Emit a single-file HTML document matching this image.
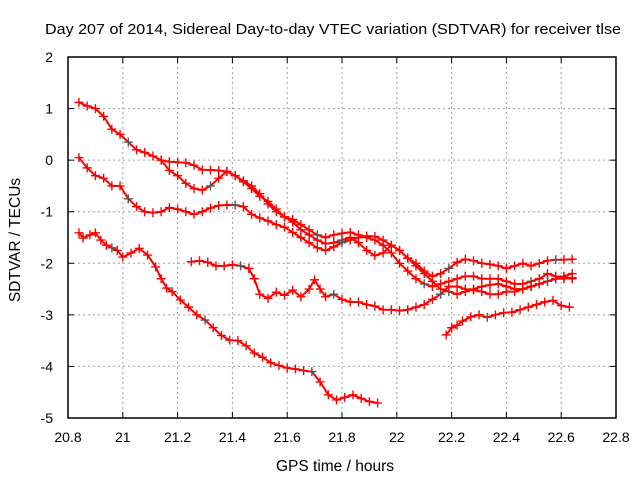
<!DOCTYPE html>
<html><head><meta charset="utf-8"><style>
html,body{margin:0;padding:0;background:#fff;}
svg text{font-family:"Liberation Sans",sans-serif;fill:#000;}
</style></head><body>
<svg id="chart" width="640" height="480" xmlns="http://www.w3.org/2000/svg">
<rect width="640" height="480" fill="#fff"/>
<text x="333" y="34" font-size="15" text-anchor="middle" textLength="576" lengthAdjust="spacingAndGlyphs">Day 207 of 2014, Sidereal Day-to-day VTEC variation (SDTVAR) for receiver tlse</text>
<g id="grid"></g><g id="ticks"></g><g id="series"></g>
<rect x="68" y="57" width="548" height="361" fill="none" stroke="#000" stroke-width="1.5"/>
<text x="335" y="471" font-size="15.5" text-anchor="middle">GPS time / hours</text>
<text x="0" y="0" font-size="15.5" text-anchor="middle" transform="translate(20,240) rotate(-90)">SDTVAR / TECUs</text>
</svg>
<script>
const xTicks=[20.8,21,21.2,21.4,21.6,21.8,22,22.2,22.4,22.6,22.8];
const xTickLabels=["20.8","21","21.2","21.4","21.6","21.8","22","22.2","22.4","22.6","22.8"];
const yTicks=[2,1,0,-1,-2,-3,-4,-5];
const yTickLabels=["2","1","0","-1","-2","-3","-4","-5"];
const s1x=[20.84,20.87,20.9,20.93,20.96,20.99,21.02,21.05,21.08,21.11,21.14,21.17,21.2,21.23,21.26,21.29,21.32,21.35,21.38,21.41,21.44,21.47,21.5,21.53,21.56,21.59,21.62,21.65,21.68,21.71,21.74,21.77,21.8,21.83,21.86,21.89,21.92,21.95,21.98,22.01,22.04,22.07,22.1,22.13,22.16,22.19,22.22,22.25,22.28,22.31,22.34,22.37,22.4,22.43,22.46,22.49,22.52,22.55,22.58,22.61,22.64];
const s1y=[1.12,1.05,1.0,0.85,0.6,0.5,0.35,0.2,0.15,0.08,0.0,-0.03,-0.04,-0.05,-0.1,-0.19,-0.19,-0.2,-0.22,-0.3,-0.42,-0.55,-0.7,-0.8,-0.95,-1.1,-1.2,-1.35,-1.45,-1.55,-1.62,-1.6,-1.55,-1.5,-1.6,-1.75,-1.85,-1.8,-1.65,-1.75,-1.9,-2.0,-2.15,-2.25,-2.2,-2.1,-1.98,-1.92,-1.95,-2.0,-2.02,-2.05,-2.1,-2.05,-2.0,-2.05,-2.0,-1.95,-1.93,-1.93,-1.92];
const s2x=[21.14,21.17,21.2,21.23,21.26,21.29,21.32,21.35,21.38,21.41,21.44,21.47,21.5,21.53,21.56,21.59,21.62,21.65,21.68,21.71,21.74,21.77,21.8,21.83,21.86,21.89,21.92,21.95,21.98,22.01,22.04,22.07,22.1,22.13,22.16,22.19,22.22,22.25,22.28,22.31,22.34,22.37,22.4,22.43,22.46,22.49,22.52,22.55,22.58,22.61,22.64];
const s2y=[0.0,-0.2,-0.3,-0.45,-0.55,-0.58,-0.5,-0.35,-0.22,-0.3,-0.4,-0.5,-0.65,-0.85,-1.0,-1.1,-1.15,-1.25,-1.35,-1.45,-1.5,-1.45,-1.42,-1.4,-1.45,-1.5,-1.55,-1.65,-1.8,-2.0,-2.15,-2.3,-2.4,-2.45,-2.4,-2.35,-2.3,-2.25,-2.25,-2.3,-2.3,-2.3,-2.35,-2.4,-2.4,-2.35,-2.3,-2.2,-2.25,-2.28,-2.3];
const s3x=[20.84,20.87,20.9,20.93,20.96,20.99,21.02,21.05,21.08,21.11,21.14,21.17,21.2,21.23,21.26,21.29,21.32,21.35,21.38,21.41,21.44,21.47,21.5,21.53,21.56,21.59,21.62,21.65,21.68,21.71,21.74,21.77,21.8,21.83,21.86,21.89,21.92,21.95,21.98,22.01,22.04,22.07,22.1,22.13,22.16,22.19,22.22,22.25,22.28,22.31,22.34,22.37,22.4,22.43,22.46,22.49,22.52,22.55,22.58,22.61,22.64];
const s3y=[0.05,-0.15,-0.3,-0.35,-0.5,-0.5,-0.75,-0.9,-1.0,-1.02,-1.0,-0.92,-0.95,-1.0,-1.05,-1.0,-0.93,-0.88,-0.87,-0.87,-0.9,-1.05,-1.12,-1.18,-1.25,-1.3,-1.4,-1.5,-1.6,-1.7,-1.75,-1.68,-1.6,-1.55,-1.5,-1.47,-1.48,-1.55,-1.65,-1.75,-1.9,-2.05,-2.2,-2.35,-2.5,-2.55,-2.6,-2.55,-2.5,-2.45,-2.42,-2.4,-2.45,-2.5,-2.5,-2.45,-2.4,-2.35,-2.3,-2.25,-2.2];
const s4x=[20.84,20.855,20.88,20.9,20.92,20.94,20.96,20.98,21.0,21.03,21.06,21.09,21.12,21.14,21.16,21.18,21.21,21.24,21.27,21.3,21.33,21.36,21.39,21.42,21.45,21.48,21.51,21.54,21.57,21.6,21.63,21.66,21.69,21.72,21.75,21.78,21.81,21.84,21.87,21.9,21.93];
const s4y=[-1.41,-1.51,-1.45,-1.41,-1.55,-1.65,-1.7,-1.75,-1.88,-1.8,-1.71,-1.84,-2.07,-2.3,-2.48,-2.55,-2.71,-2.85,-3.0,-3.1,-3.25,-3.4,-3.49,-3.5,-3.6,-3.74,-3.82,-3.93,-3.98,-4.03,-4.05,-4.08,-4.1,-4.3,-4.55,-4.65,-4.6,-4.55,-4.62,-4.68,-4.71];
const s5x=[21.25,21.28,21.31,21.34,21.37,21.4,21.43,21.46,21.48,21.5,21.53,21.56,21.59,21.62,21.65,21.68,21.7,21.72,21.74,21.77,21.8,21.83,21.86,21.89,21.92,21.95,21.98,22.01,22.04,22.07,22.1,22.13,22.16,22.19,22.22,22.25,22.28,22.31,22.34,22.37,22.4,22.43,22.46,22.49,22.52,22.55,22.58,22.61,22.64];
const s5y=[-1.97,-1.95,-1.98,-2.05,-2.05,-2.03,-2.05,-2.1,-2.3,-2.6,-2.68,-2.56,-2.62,-2.52,-2.65,-2.5,-2.32,-2.5,-2.65,-2.6,-2.7,-2.75,-2.75,-2.8,-2.83,-2.9,-2.9,-2.92,-2.9,-2.85,-2.8,-2.7,-2.6,-2.45,-2.45,-2.5,-2.52,-2.55,-2.6,-2.6,-2.55,-2.55,-2.5,-2.45,-2.4,-2.35,-2.3,-2.3,-2.28];
const s6x=[22.18,22.2,22.22,22.24,22.27,22.3,22.33,22.36,22.39,22.42,22.45,22.48,22.51,22.54,22.57,22.6,22.63];
const s6y=[-3.39,-3.25,-3.2,-3.12,-3.04,-3.0,-3.05,-3.0,-2.96,-2.95,-2.9,-2.85,-2.8,-2.75,-2.72,-2.82,-2.85];
const seriesList=[[s1x,s1y],[s2x,s2y],[s3x,s3y],[s4x,s4y],[s5x,s5y],[s6x,s6y]];
const NS="http://www.w3.org/2000/svg";
const X0=68,X1=616,Y0=57,Y1=418;
function xs(v){return X0+(v-20.8)/(22.8-20.8)*(X1-X0);}
function ys(v){return Y0+(2-v)/(2-(-5))*(Y1-Y0);}
function mk(tag,attrs,parent){const e=document.createElementNS(NS,tag);for(const k in attrs)e.setAttribute(k,attrs[k]);parent.appendChild(e);return e;}
const grid=document.getElementById('grid'),ticks=document.getElementById('ticks'),ser=document.getElementById('series');
xTicks.forEach((t,i)=>{const x=xs(t);
 if(i>0&&i<xTicks.length-1){const g=mk('line',{x1:x,x2:x,y1:Y0,y2:Y1,stroke:'#a0a0a0','stroke-dasharray':'2,3'},grid);
 
 }
 mk('line',{x1:x,x2:x,y1:Y1,y2:Y1-6,stroke:'#000'},ticks);
 mk('line',{x1:x,x2:x,y1:Y0,y2:Y0+6,stroke:'#000'},ticks);
 const tx=mk('text',{x:x,y:442,'font-size':14,'text-anchor':'middle'},ticks);tx.textContent=xTickLabels[i];
 
 });
yTicks.forEach((t,i)=>{const y=ys(t);
 if(i>0&&i<yTicks.length-1){const g=mk('line',{x1:X0,x2:X1,y1:y,y2:y,stroke:'#a0a0a0','stroke-dasharray':'2,3'},grid);
 
 }
 mk('line',{x1:X0,x2:X0+6,y1:y,y2:y,stroke:'#000'},ticks);
 mk('line',{x1:X1,x2:X1-6,y1:y,y2:y,stroke:'#000'},ticks);
 const tx=mk('text',{x:53,y:y+5,'font-size':14,'text-anchor':'end'},ticks);tx.textContent=yTickLabels[i];
 
 });
seriesList.forEach((s,si)=>{const g=mk('g',{},ser);
 
 
 let d='';s[0].forEach((xv,j)=>{d+=(j?'L':'M')+xs(xv).toFixed(1)+' '+ys(s[1][j]).toFixed(1);});
 mk('path',{d:d,fill:'none',stroke:'#f00','stroke-width':2,'stroke-linejoin':'round'},g);
 s[0].forEach((xv,j)=>{const x=xs(xv),y=ys(s[1][j]);
  const p=mk('path',{d:`M${x-4.5} ${y}H${x+4.5}M${x} ${y-4.5}V${y+4.5}`,stroke:(j%13==6?'#555':'#f00'),'stroke-width':1.4},g);
  
  });});
</script>
</body></html>
